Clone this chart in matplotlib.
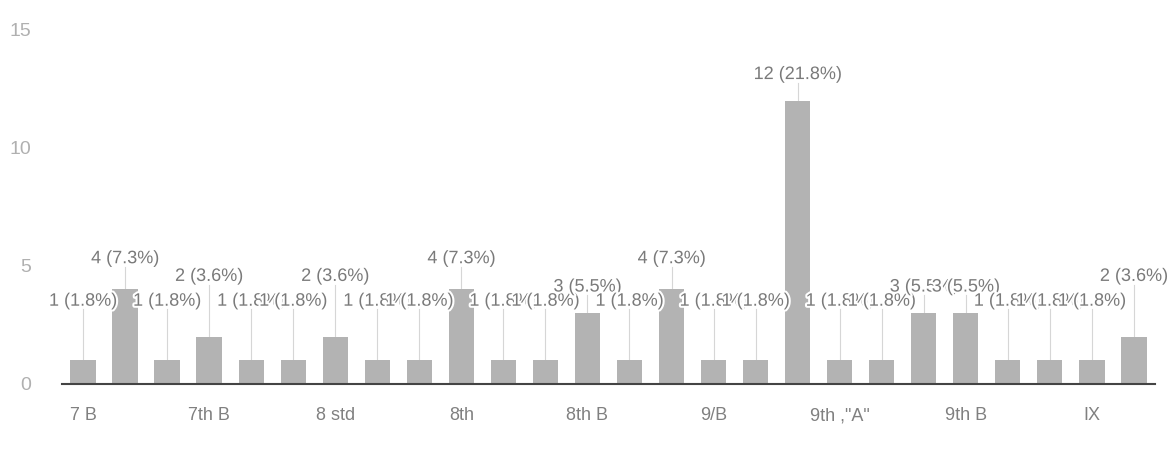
import matplotlib
matplotlib.use("Agg")
import matplotlib.pyplot as plt
import matplotlib.patheffects as pe
import numpy as np

categories = ["7 B", "7 th", "7B", "7th B", "7th b", "8", "8 std", "8 th", "8 th B",
              "8th", "8th  B", "8th A", "8th B", "8th b", "9", "9/B", "9th", "9th  B",
              "9th ,\"A\"", "9th 'A'", "9th A", "9th B", "9th b", "9th std", "IX", "IX B"]
counts = [1, 4, 1, 2, 1, 1, 2, 1, 1, 4, 1, 1, 3, 1, 4, 1, 1, 12, 1, 1, 3, 3, 1, 1, 1, 2]
total = sum(counts)

# label heights above bars (styling: annotation stem lengths per value)
stem_by_value = {1: 2.5, 2: 2.55, 3: 1.1, 4: 1.3, 12: 1.1}

plt.rcParams['font.family'] = ['Liberation Sans', 'DejaVu Sans']

fig = plt.figure(figsize=(11.69, 4.5), dpi=100)
ax = fig.add_axes([0.053, 0.147, 0.935, 0.787])

x = np.arange(len(categories))
ax.bar(x, counts, width=0.6, color="#b3b3b3", zorder=2)

for xi, v in zip(x, counts):
    ly = v + stem_by_value.get(v, 1.2)
    ax.plot([xi, xi], [v, ly - 0.35], color="#d6d6d6", lw=0.8, zorder=1)
    ax.text(xi, ly, f"{v} ({v / total * 100:.1f}%)", ha="center", va="center",
            fontsize=13, color="#7a7a7a", zorder=3,
            path_effects=[pe.withStroke(linewidth=3, foreground="white")])

ax.set_xlim(-0.5, len(categories) - 0.5)
ax.set_ylim(0, 15)
ax.set_yticks([0, 5, 10, 15])
ax.tick_params(axis="y", length=0, labelsize=14, labelcolor="#b0b0b0", pad=22)
ticks = x[::3]
ax.set_xticks(ticks)
ax.set_xticklabels([categories[i] for i in ticks])
ax.tick_params(axis="x", length=0, labelsize=13, labelcolor="#808080", pad=17)

for s in ["top", "right", "left"]:
    ax.spines[s].set_visible(False)
ax.spines["bottom"].set_color("#444444")
ax.spines["bottom"].set_linewidth(1.5)

fig.savefig("out.png", dpi=100, facecolor="white")
